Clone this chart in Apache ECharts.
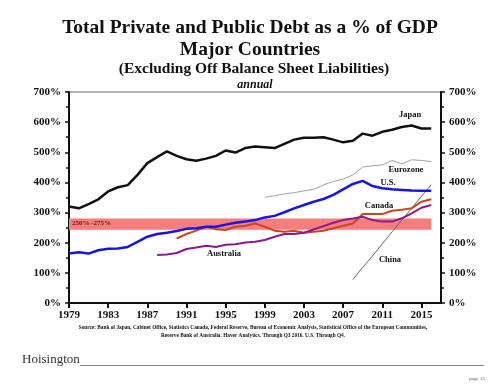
<!DOCTYPE html>
<html><head><meta charset="utf-8">
<script src="https://cdn.jsdelivr.net/npm/echarts@6/dist/echarts.min.js"></script>
<style>html,body{margin:0;padding:0;background:#fff}#c{width:500px;height:386px}</style>
</head><body><div id="c"></div>
<script>
var years = [];
for (var y = 1979; y <= 2017; y++) years.push(String(y));
var japan = [320,314,328,344,370,384,391,425,464,484,503,488,477,472,479,488,506,499,514,519,517,514,528,542,548,548,550,542,533,538,562,555,568,575,584,589,579,579,null];
var us = [164,168,164,175,180,181,186,203,220,229,233,239,246,248,253,253,260,266,270,275,284,289,301,314,325,336,345,359,377,395,405,388,381,377,375,373,372,372,null];
var canada = [null,null,null,null,null,null,null,null,null,null,null,214,229,240,253,245,242,253,256,264,253,240,236,240,233,236,240,248,256,264,295,295,295,306,309,314,336,344,null];
var australia = [null,null,null,null,null,null,null,null,null,159,161,166,179,184,190,186,193,195,201,203,209,220,229,229,233,244,255,266,275,280,286,275,270,270,281,297,316,325,null];
var eurozone = [null,null,null,null,null,null,null,null,null,null,null,null,null,null,null,null,null,null,null,null,351,356,362,366,372,377,392,403,411,425,451,455,458,473,461,475,473,469,null];
var china = [null,null,null,null,null,null,null,null,null,null,null,null,null,null,null,null,null,null,null,null,null,null,null,null,null,null,null,null,null,78,118,156,196,236,275,314,354,392,null];
var bandRange = [243, 280];
var bandYears = ['1979', '2016'];
var yTicks = [0, 700, 100];

var serif = 'Liberation Serif';
var chart = echarts.init(document.getElementById('c'), null, {renderer: 'canvas'});
function yAxisDef(pos) {
  return {
    type: 'value', position: pos, min: yTicks[0], max: yTicks[1], interval: yTicks[2],
    axisLine: {show: true, lineStyle: {color: '#111', width: 2}},
    axisTick: {show: true, inside: false, length: 4, lineStyle: {color: '#111', width: 1.5}},
    minorTick: {show: true, splitNumber: 2, length: 3, lineStyle: {color: '#111', width: 1.5}},
    splitLine: {show: false},
    axisLabel: {formatter: '{value}%', fontFamily: serif, fontWeight: 'bold', fontSize: 11, color: '#111', margin: 8}
  };
}
function line(data, color, width) {
  return {type: 'line', data: data, symbol: 'none', connectNulls: false, smooth: false,
    lineStyle: {color: color, width: width}, itemStyle: {color: color}, yAxisIndex: 0, silent: true};
}
var s = [
  line(eurozone, '#a0a0a0', 1),
  line(china, '#666666', 1),
  line(japan, '#111111', 2.5),
  line(canada, '#c8461c', 2),
  line(australia, '#8b1a8b', 2),
  line(us, '#1616e0', 2.5)
];
s[0].markArea = {silent: true, itemStyle: {color: '#f67e7e', opacity: 1},
  data: [[{xAxis: bandYears[0], yAxis: bandRange[0]}, {xAxis: bandYears[1], yAxis: bandRange[1]}]]};
s[0].z = 1;
var txt = function (x, y, text, size, opts) {
  opts = opts || {};
  return {type: 'text', x: x, y: y, z: 100, style: {
    text: text, x: 0, y: 0, fontFamily: serif, fontSize: size, fontWeight: opts.weight || 'bold',
    fontStyle: opts.style || 'normal', fill: opts.color || '#111',
    textAlign: opts.align || 'center', textVerticalAlign: 'middle'}};
};
chart.setOption({
  animation: false,
  grid: {left: 69, right: 59, top: 92, bottom: 83, show: true, borderColor: '#666', borderWidth: 1, backgroundColor: 'transparent'},
  xAxis: {type: 'category', data: years, boundaryGap: false,
    axisLine: {show: true, lineStyle: {color: '#111', width: 2}},
    axisTick: {show: true, interval: 3, length: 5, lineStyle: {color: '#111', width: 2}},
    axisLabel: {interval: 3, fontFamily: serif, fontWeight: 'bold', fontSize: 11, color: '#111', margin: 7},
    splitLine: {show: false}},
  yAxis: [yAxisDef('left'), yAxisDef('right')],
  series: s,
  graphic: [
    txt(250, 28, 'Total Private and Public Debt as a % of GDP', 19.5),
    txt(250, 50, 'Major Countries', 19.5),
    txt(254, 69, '(Excluding Off Balance Sheet Liabilities)', 15.5),
    txt(255, 85, 'annual', 12, {style: 'italic'}),
    txt(410, 115, 'Japan', 8.5),
    txt(406, 170, 'Eurozone', 8.5),
    txt(388, 183, 'U.S.', 8.5),
    txt(379, 206, 'Canada', 8.5),
    txt(224, 254, 'Australia', 8.5),
    txt(390, 260, 'China', 8.5),
    txt(72, 223.5, '250% -275%', 7, {align: 'left', color: '#7a1010'}),
    txt(253, 327.5, 'Source: Bank of Japan, Cabinet Office, Statistics Canada, Federal Reserve, Bureau of Economic Analysis, Statistical Office of the European Communities,', 5.3),
    txt(253, 335.5, 'Reserve Bank of Australia. Haver Analytics. Through Q3 2016. U.S. Through Q4.', 5.3),
    txt(22, 360, 'Hoisington', 13, {align: 'left', weight: 'normal', color: '#333'}),
    {type: 'line', z: 100, shape: {x1: 80, y1: 365.5, x2: 484, y2: 365.5}, style: {stroke: '#888', lineWidth: 1}},
    txt(485, 379, 'page 15', 5, {align: 'right', weight: 'normal', color: '#555'})
  ]
});
</script></body></html>
